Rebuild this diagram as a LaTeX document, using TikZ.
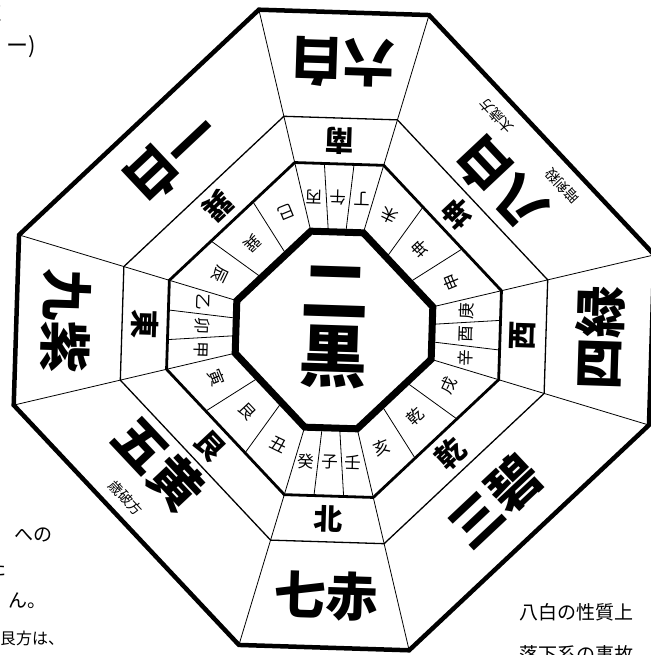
\documentclass[tikz,border=0pt]{standalone}
\usepackage{fontspec}
\newfontfamily\jp{Noto Sans CJK JP}
\usetikzlibrary{calc}
\tikzset{
  outerline/.style={line width=4.5pt, line join=miter},
  ringone/.style={line width=1.3pt},
  ringtwo/.style={line width=2.8pt},
  coreline/.style={line width=7pt, line join=miter},
  thinline/.style={line width=0.8pt},
  inner/.style={font=\jp\fontsize{16.5}{16.5}\selectfont, inner sep=0pt},
  dirlab/.style={font=\jp\bfseries\fontsize{29}{29}\selectfont, inner sep=0pt},
  biglab/.style={font=\jp\bfseries\fontsize{52}{52}\selectfont, inner sep=0pt},
  smalllab/.style={font=\jp\fontsize{14}{14}\selectfont, inner sep=0pt},
  corelab/.style={font=\jp\bfseries\fontsize{68}{68}\selectfont, inner sep=0pt},
  bodytext/.style={font=\jp\fontsize{19}{19}\selectfont, inner sep=0pt}
}
\begin{document}
\begin{tikzpicture}[x=1pt,y=1pt]
\useasboundingbox (0,0) rectangle (650,655);
\fill[white] (0,0) rectangle (650,655);
\begin{scope}[shift={(334,325)}, rotate=-1.8, transform shape]
  % spokes
  \foreach \a in {15,75,105,165,195,255,285,345}
    \draw[thinline] (\a:101.5) -- (\a:329);
  % inner subdividers
  \foreach \a/\b in {-15/15,15/75,75/105,105/165,165/195,195/255,255/285,285/345}{
    \foreach \f in {0.3333,0.6667}
      \draw[thinline] ($(\a:101.5)!\f!(\b:101.5)$) -- ($(\a:172)!\f!(\b:172)$);
  }
  % octagons
  \draw[outerline] (15:329) -- (75:329) -- (105:329) -- (165:329) -- (195:329) -- (255:329) -- (285:329) -- (345:329) -- cycle;
  \draw[ringone] (15:219.5) -- (75:219.5) -- (105:219.5) -- (165:219.5) -- (195:219.5) -- (255:219.5) -- (285:219.5) -- (345:219.5) -- cycle;
  \draw[ringtwo] (15:172) -- (75:172) -- (105:172) -- (165:172) -- (195:172) -- (255:172) -- (285:172) -- (345:172) -- cycle;
  \draw[coreline] (15:101.5) -- (75:101.5) -- (105:101.5) -- (165:101.5) -- (195:101.5) -- (255:101.5) -- (285:101.5) -- (345:101.5) -- cycle;
  % 24 mountains
  \foreach \a/\b/\m/\o/\ca/\cb/\cc in {
    -15/15/0/0/辛/酉/庚,
    15/75/45/21/申/坤/未,
    75/105/90/0/丁/午/丙,
    105/165/135/21/巳/巽/辰,
    165/195/180/0/乙/卯/甲,
    195/255/225/21/寅/艮/丑,
    255/285/270/0/癸/子/壬,
    285/345/315/21/亥/乾/戌}{
    \node[inner, rotate=\m+90-\o] (m\m a) at ($(\a:136.75)!0.1667!(\b:136.75)$) {\ca};
    \node[inner, rotate=\m+90] (m\m b) at ($(\a:136.75)!0.5!(\b:136.75)$) {\cb};
    \node[inner, rotate=\m+90+\o] (m\m c) at ($(\a:136.75)!0.8333!(\b:136.75)$) {\cc};
  }
  % directions
  \foreach \a/\b/\m/\t in {-15/15/0/西, 15/75/45/坤, 75/105/90/南, 105/165/135/巽, 165/195/180/東, 195/255/225/艮, 255/285/270/北, 285/345/315/乾}
    \node[dirlab, rotate=\m+90] (d\m) at ($(\a:195.75)!0.5!(\b:195.75)$) {\t};
  % stars
  \node[biglab, rotate=90] (s4) at (0:266) {四緑};
  \node[biglab, rotate=135] (s8) at ($(45:222)+(135:-8)$) {八白};
  \node[biglab, rotate=180] (s6) at (90:268) {六白};
  \node[biglab, rotate=225] (s1) at (135:237) {一白};
  \node[biglab, rotate=270] (s9) at (180:268) {九紫};
  \node[biglab, rotate=315] (s5) at ($(225:219)+(315:-22)$) {五黄};
  \node[biglab, rotate=0] (s7) at (270:266) {七赤};
  \node[biglab, rotate=45] (s3) at (315:235) {三碧};
  \node[smalllab, rotate=135] (k1) at ($(45:265)+(135:-51)$) {暗剣殺};
  \node[smalllab, rotate=135] (k2) at ($(45:265)+(135:45)$) {太歳方};
  \node[smalllab, rotate=315] (k3) at ($(225:267)+(315:-20)$) {歳破方};
  % center
  \node[corelab] (c1) at (0,38) {二};
  \node[corelab] (c2) at (0,-27) {黒};
\end{scope}
% surrounding text fragments
\node[bodytext, anchor=east] (t1) at (7,642) {く};
\node[bodytext, anchor=west, font=\jp\fontsize{22}{22}\selectfont] (t2) at (6,608) {ー)};
\node[bodytext, anchor=west] (t3) at (14,120) {への};
\node[bodytext, anchor=east] (t4) at (7,87) {た};
\node[bodytext, anchor=west] (t5) at (8,54) {ん。};
\node[bodytext, anchor=west, font=\jp\fontsize{16}{16}\selectfont] (t6) at (0,17) {艮方は、};
\node[bodytext, anchor=west] (t7) at (519,43) {八白の性質上};
\node[bodytext, anchor=west] (t8) at (519,1) {落下系の事故};
\end{tikzpicture}
\end{document}
